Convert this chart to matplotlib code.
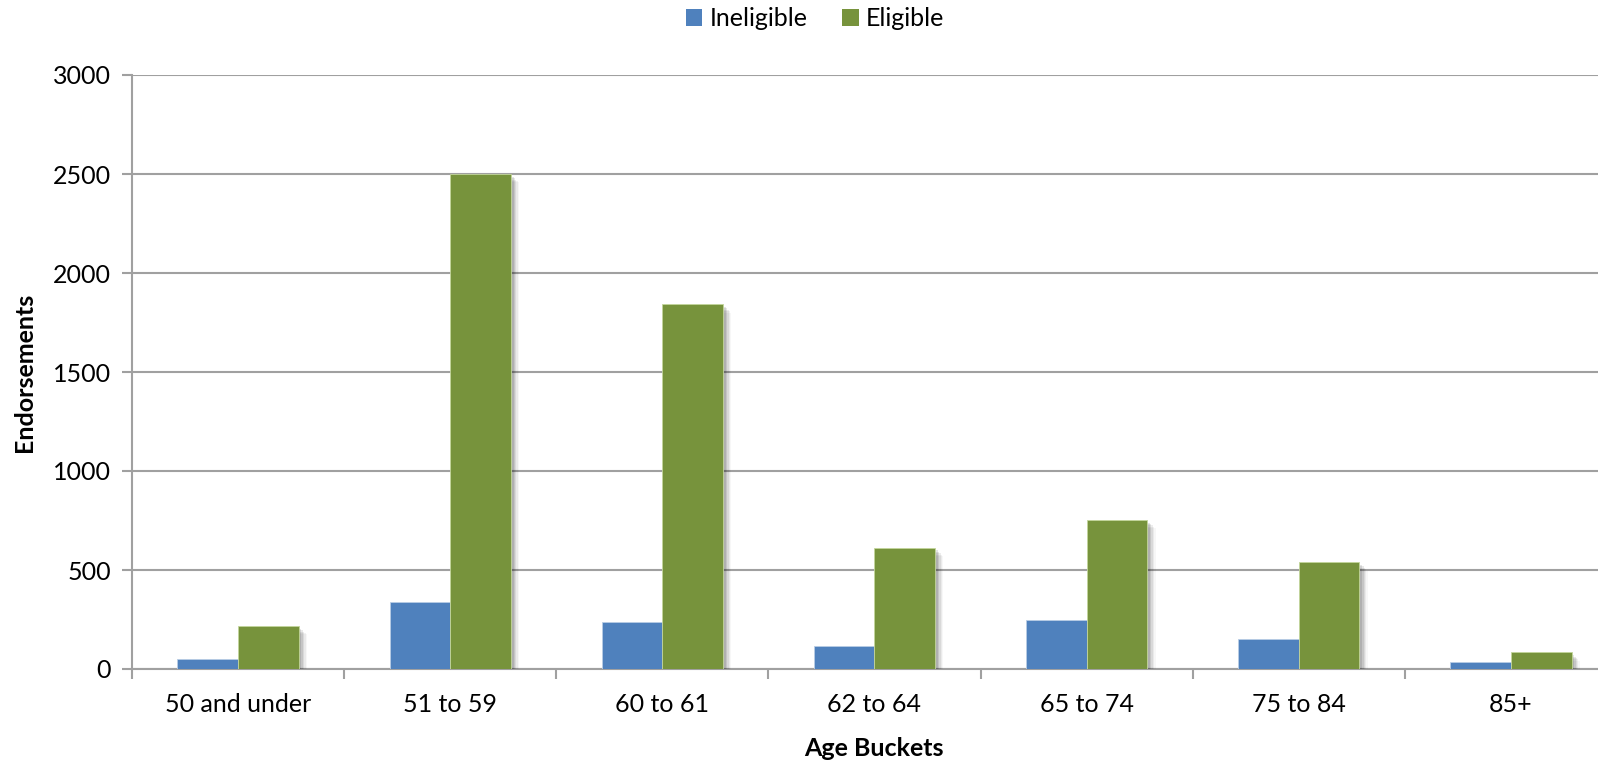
import numpy as np
import matplotlib.pyplot as plt
import matplotlib.patheffects as pe
from matplotlib.patches import Patch

# ==== DATA ====
age_buckets = ['50 and under', '51 to 59', '60 to 61', '62 to 64', '65 to 74', '75 to 84', '85+']
ineligible = [50, 338, 239, 116, 246, 150, 34]
eligible = [217, 2500, 1842, 613, 753, 539, 84]
series_names = ['Ineligible', 'Eligible']
y_ticks = [0, 500, 1000, 1500, 2000, 2500, 3000]
# ==============

plt.rcParams['font.family'] = ['Lato', 'DejaVu Sans']

blue = '#4F81BD'
green = '#77933C'
grid_col = '#A0A0A0'

fig = plt.figure(figsize=(15.98, 7.62), dpi=100)
# plot area runs slightly past the right edge of the canvas
ax = fig.add_axes([132 / 1598, 1 - 669 / 762, 1485 / 1598, (669 - 75) / 762])

x = np.arange(len(age_buckets))
w = 1 / 3.5  # gap width 150%

# soft drop shadow built from a few stacked offsets
shadow = [pe.SimplePatchShadow(offset=(d, -d), shadow_rgbFace='black', alpha=a)
          for d, a in [(6, 0.03), (5, 0.05), (4, 0.07), (3, 0.09), (2, 0.1)]] + [pe.Normal()]

b1 = ax.bar(x - w / 2, ineligible, w, color=blue, edgecolor='#B9CDE5', linewidth=0.6,
            zorder=3)
b2 = ax.bar(x + w / 2, eligible, w, color=green, edgecolor='#C3D69B', linewidth=0.6,
            zorder=3)
for bar in list(b1) + list(b2):
    bar.set_path_effects(shadow)

ax.set_xlim(-0.5, len(age_buckets) - 0.5)
ax.set_ylim(0, 3000)
ax.set_yticks(y_ticks)
ax.set_xticks(x)
ax.set_xticklabels(age_buckets)
ax.set_xticks(np.arange(len(age_buckets) + 1) - 0.5, minor=True)

ax.yaxis.grid(True, color=grid_col, linewidth=1.5, zorder=0)
ax.set_axisbelow(True)

for side in ['top', 'right']:
    ax.spines[side].set_visible(False)
for side in ['left', 'bottom']:
    ax.spines[side].set_color(grid_col)
    ax.spines[side].set_linewidth(1.5)

ax.tick_params(axis='y', which='major', length=7, width=1.5, color=grid_col,
               labelsize=18, pad=8)
ax.tick_params(axis='x', which='major', length=0, labelsize=18, pad=17)
ax.tick_params(axis='x', which='minor', length=7, width=1.5, color=grid_col)

ax.set_ylabel('Endorsements', fontsize=18, fontweight='bold', labelpad=12)
fig.text(874 / 1598, 1 - 749 / 762, 'Age Buckets', fontsize=18, fontweight='bold',
         ha='center', va='center')

handles = [Patch(facecolor=blue), Patch(facecolor=green)]
fig.legend(handles=handles, labels=series_names, loc='center',
           bbox_to_anchor=(815 / 1598, 1 - 19 / 762), ncol=2, frameon=False,
           fontsize=18, handlelength=0.65, handleheight=0.65, handletextpad=0.3,
           columnspacing=1.4)

fig.savefig('out.png', dpi=100)
